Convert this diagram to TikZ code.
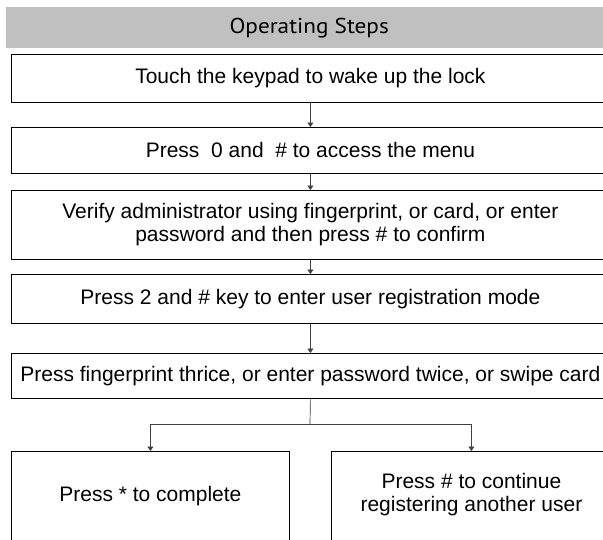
\documentclass[tikz,border=0pt]{standalone}
\usepackage{fontspec}
\setmainfont{Liberation Sans}
\newfontfamily\headfont[FakeStretch=1.08]{PT Sans}
\usetikzlibrary{arrows.meta}
\definecolor{hdrgray}{HTML}{C0C0C0}
\begin{document}
\begin{tikzpicture}[x=1pt,y=-1pt,
  stepbox/.style={draw=black,line width=0.8pt,inner sep=0pt,anchor=north west},
  lbl/.style={font=\fontsize{21}{23}\selectfont,align=center,inner sep=0pt},
  arr/.style={draw=black!75,line width=0.7pt,-{Triangle[width=6pt,length=4.5pt]}},
  conn/.style={draw=black!75,line width=0.7pt}]
\useasboundingbox (0,0) rectangle (603,539);
\fill[white] (0,0) rectangle (603,539);
\node[fill=hdrgray,anchor=north west,minimum width=606pt,minimum height=41pt,inner sep=0pt,
  font=\headfont\fontsize{21.5}{24}\selectfont] (hdr) at (6,7) {Operating Steps};
\node[stepbox,minimum width=598pt,minimum height=48pt,lbl] (b1) at (11,54) {Touch the keypad to wake up the lock};
\node[stepbox,minimum width=598pt,minimum height=46pt,lbl] (b2) at (11,127) {Press \ 0 and \ \# to access the menu};
\node[stepbox,minimum width=598pt,minimum height=69pt,lbl] (b3) at (11,190) {Verify administrator using fingerprint, or card, or enter\\password and then press \# to confirm};
\node[stepbox,minimum width=598pt,minimum height=49pt,lbl] (b4) at (11,274) {Press 2 and \# key to enter user registration mode};
\node[stepbox,minimum width=598pt,minimum height=45pt,lbl] (b5) at (11,353) {Press fingerprint thrice, or enter password twice, or swipe card};
\node[stepbox,minimum width=278pt,minimum height=110pt] (b6) at (11,451) {};
\node[stepbox,minimum width=280pt,minimum height=110pt] (b7) at (331,451) {};
\node[lbl] (t6) at ([yshift=-45pt]b6.north) {Press * to complete};
\node[lbl] (t7) at ([yshift=-44pt]b7.north) {Press \# to continue\\registering another user};
\coordinate (split) at (310,424);
\draw[arr] (b1.south) -- (b2.north);
\draw[arr] (b2.south) -- (b3.north);
\draw[arr] (b3.south) -- (b4.north);
\draw[arr] (b4.south) -- (b5.north);
\draw[conn] (b5.south) -- (split);
\draw[arr] (split) -| (b6.north);
\draw[arr] (split) -| (b7.north);
\end{tikzpicture}
\end{document}
